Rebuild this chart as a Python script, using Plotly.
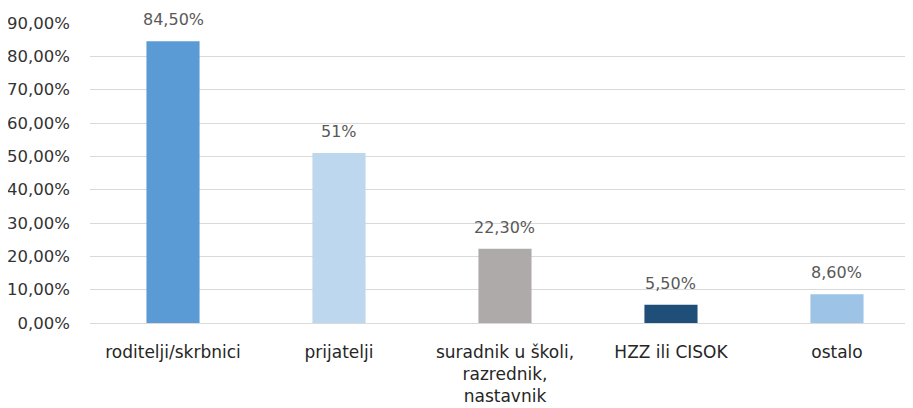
import plotly.graph_objects as go

categories = ["roditelji/skrbnici", "prijatelji", "suradnik u školi,<br>razrednik,<br>nastavnik", "HZZ ili CISOK", "ostalo"]
values = [84.5, 51.0, 22.3, 5.5, 8.6]
value_labels = ["84,50%", "51%", "22,30%", "5,50%", "8,60%"]
colors = ["#5B9BD5", "#BDD7EE", "#AEAAAA", "#1F4E79", "#9DC3E6"]
y_ticks = [0, 10, 20, 30, 40, 50, 60, 70, 80, 90]
y_tick_labels = ["0,00%", "10,00%", "20,00%", "30,00%", "40,00%", "50,00%", "60,00%", "70,00%", "80,00%", "90,00%"]

font_family = "DejaVu Sans, sans-serif"
x_pos = list(range(len(categories)))

fig = go.Figure(go.Bar(
    x=x_pos,
    y=values,
    marker=dict(color=colors, line=dict(width=0)),
    width=0.32,
    hoverinfo="skip",
))

for xi, v, lab in zip(x_pos, values, value_labels):
    fig.add_annotation(
        x=xi, y=v, text=lab, showarrow=False,
        yanchor="bottom", yshift=10,
        font=dict(family=font_family, size=16, color="#595959"),
    )

fig.update_layout(
    width=905, height=400,
    margin=dict(l=82, r=0, t=15, b=85),
    paper_bgcolor="white", plot_bgcolor="white",
    showlegend=False,
    font=dict(family=font_family),
    xaxis=dict(
        range=[-0.5, 4.458],
        tickmode="array",
        tickvals=x_pos,
        ticktext=categories,
        tickfont=dict(family=font_family, size=17, color="#262626"),
        showgrid=False, showline=False, zeroline=False, ticks="",
        ticklabelstandoff=17, automargin=False,
    ),
    yaxis=dict(
        range=[0, 90],
        tickmode="array",
        tickvals=y_ticks,
        ticktext=y_tick_labels,
        tickfont=dict(family=font_family, size=16.5, color="#333333"),
        showgrid=True, gridcolor="#D9D9D9", gridwidth=1,
        zeroline=True, zerolinecolor="#D9D9D9", zerolinewidth=1,
        showline=False, ticks="", ticklabelstandoff=19, automargin=False,
    ),
)

fig.write_html("out.html")
